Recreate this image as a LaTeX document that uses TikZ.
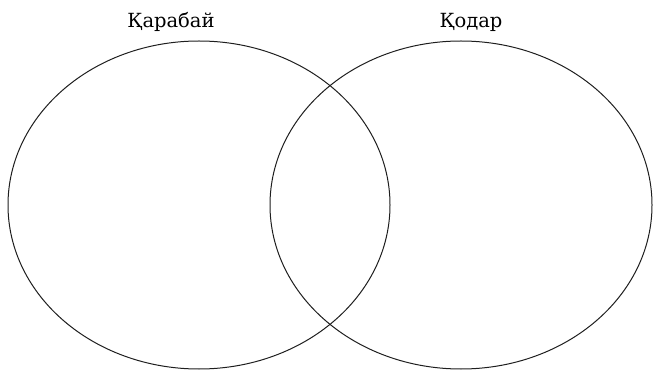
\documentclass[tikz,border=0pt]{standalone}
\usepackage{fontspec}
\setmainfont{DejaVu Serif}
\usepackage{tikz}
\usetikzlibrary{shapes.geometric,positioning}
\definecolor{RingGray}{RGB}{30,30,30}

\begin{document}
\begin{tikzpicture}[x=1pt,y=-1pt]
  \useasboundingbox (0,0) rectangle (653,371);
  % left set
  \node[draw=RingGray,line width=1pt,ellipse,minimum width=382pt,minimum height=328pt,inner sep=0pt] (karabai) at (199,205) {};
  % right set
  \node[draw=RingGray,line width=1pt,ellipse,minimum width=382pt,minimum height=328pt,inner sep=0pt] (kodar) at (461,205) {};
  % labels
  \node[font=\fontsize{19.5}{23}\selectfont,anchor=base] (karabaiL) at (171,28) {Қарабай};
  \node[font=\fontsize{19.5}{23}\selectfont,anchor=base] (kodarL) at (471,28) {Қодар};
\end{tikzpicture}
\end{document}
